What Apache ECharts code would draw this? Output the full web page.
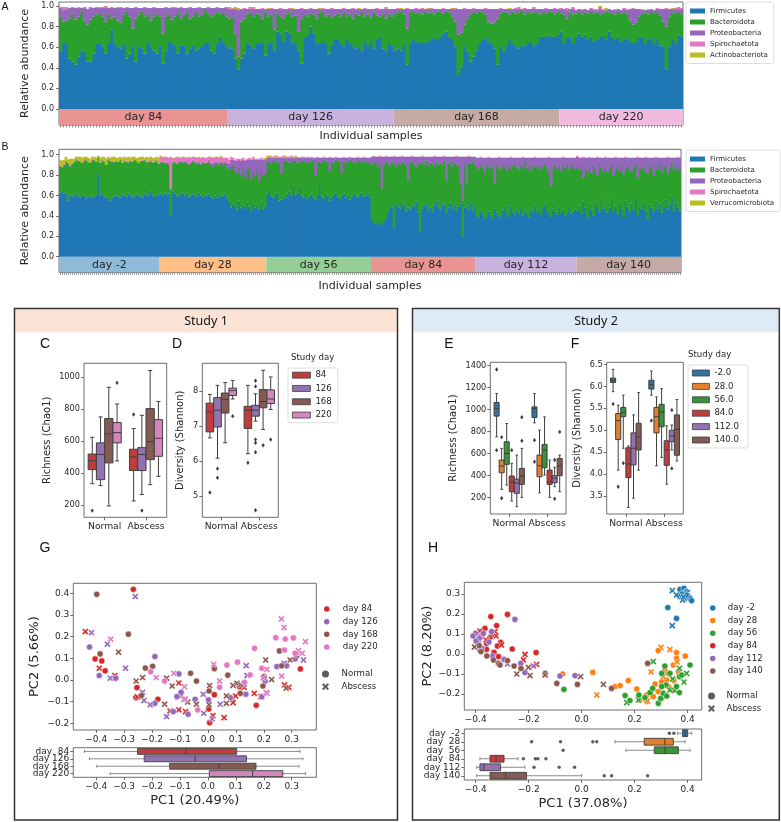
<!DOCTYPE html>
<html><head><meta charset="utf-8">
<script src="https://cdn.jsdelivr.net/npm/echarts@6/dist/echarts.min.js"></script>
<style>html,body{margin:0;padding:0;background:#fff}#c{width:781px;height:822px}</style>
</head><body><div id="c"></div>
<script>
// ================= DATA =================
const phylaA = ['Firmicutes','Bacteroidota','Proteobacteria','Spirochaetota','Actinobacteriota'];
const phylaB = ['Firmicutes','Bacteroidota','Proteobacteria','Spirochaetota','Verrucomicrobiota'];
const phylumColors = ['#1f77b4','#2ca02c','#9467bd','#e377c2','#bcbd22'];
const daysA = ['day 84','day 126','day 168','day 220'];
const daySizesA = [56,55,55,41];
const bandColorsA = ['#ea9393','#c9b3de','#c5aaa5','#f1bbe0'];
const daysB = ['day -2','day 28','day 56','day 84','day 112','day 140'];
const daySizesB = [50,53,52,52,50,52];
const bandColorsB = ['#8fbbd9','#ffbf86','#95cf95','#ea9393','#c9b3de','#c5aaa5'];

// Study 1 relative abundance (percent)
const firmA = [
56,64,64,49,46,43,51,57,56,46,46,54,64,64,61,54,64,77,64,61,59,64,49,54,61,46,61,59,54,65,61,57,54,62,44,57,65,64,62,54,62,62,54,59,62,57,59,61,64,65,57,54,64,70,65,61,
59,59,49,38,49,54,64,62,59,64,64,65,52,64,65,57,75,73,65,75,73,64,65,57,44,70,72,80,73,64,64,65,64,54,62,67,67,64,61,68,64,61,59,61,57,65,61,65,59,68,70,59,57,64,62,
57,59,57,64,43,64,67,65,64,65,64,65,67,69,67,70,73,75,70,67,61,33,41,61,56,46,51,57,64,67,69,65,64,59,43,61,56,62,67,64,61,59,62,61,64,65,61,64,70,70,70,72,70,70,72,
75,64,70,69,64,70,73,70,72,67,70,65,67,70,72,67,75,69,67,70,65,67,69,65,64,65,70,69,64,67,69,64,67,61,61,38,61,67,64,72,70];
const bactA = [
34,21,22,39,47,44,39,38,30,36,41,36,28,29,29,31,29,11,26,25,25,28,46,36,17,42,31,36,36,27,25,33,39,28,29,33,27,23,28,40,26,30,40,29,28,38,31,31,32,28,33,38,31,22,29,29,
29,31,24,13,36,34,28,32,31,29,28,23,43,26,27,20,18,17,23,17,21,26,26,18,44,22,18,13,19,24,30,30,26,38,27,24,26,26,33,22,28,27,34,30,38,25,31,24,35,23,20,33,31,29,28,
36,35,38,28,35,30,28,28,30,27,31,28,27,23,28,24,20,20,24,23,24,39,33,21,32,46,43,36,31,27,23,20,19,25,45,32,39,32,25,31,32,35,34,31,31,28,33,31,22,24,23,23,24,22,23,
18,28,18,25,28,23,22,22,22,26,25,28,27,22,21,28,19,24,25,25,28,27,23,21,18,19,20,24,30,25,26,29,27,30,24,42,29,27,29,23,22];
const protA = [
8,11,11,10,5,11,8,3,12,15,11,8,6,5,8,13,5,10,8,12,14,6,3,8,20,10,6,3,8,6,12,8,5,8,25,8,6,11,8,4,10,6,4,10,8,3,8,6,2,5,8,6,3,6,4,8,
9,7,24,45,12,9,5,3,7,4,5,9,2,7,5,20,4,7,9,5,3,7,6,22,9,5,7,4,5,9,3,2,7,5,8,6,4,7,3,7,5,9,4,6,2,7,5,8,3,6,7,5,9,4,7,
4,3,2,5,19,3,2,4,3,5,2,4,3,5,2,3,4,2,3,7,12,25,23,15,9,5,3,4,2,3,5,12,14,13,9,4,2,3,5,2,4,3,1,5,2,4,3,2,5,3,4,2,3,5,2,
4,5,8,3,5,3,2,4,3,3,2,3,2,5,3,1,3,3,4,2,3,3,4,11,15,13,7,3,2,4,2,3,3,6,12,17,7,3,4,2,5];
const spirA = [
1,3,1,0,1,0,0,0,1,0,1,0,1,0,1,2,0,1,0,0,1,0,1,0,0,1,0,0,1,0,0,1,0,0,0,1,0,1,0,0,1,0,0,1,0,0,1,0,0,1,0,0,1,0,0,1,
1,0,1,1,0,1,0,2,1,0,0,1,0,0,1,0,0,1,0,0,1,0,0,0,1,0,0,1,0,0,0,1,0,0,1,0,0,0,1,0,0,1,0,0,0,1,0,0,0,1,0,0,1,0,0,
0,1,0,0,1,0,0,1,0,1,0,0,1,0,0,0,1,0,0,0,1,0,0,1,0,0,1,0,0,0,1,0,0,0,0,1,0,0,0,0,1,2,0,1,0,0,1,0,0,0,1,0,0,1,0,
1,0,2,0,1,0,0,1,0,0,1,1,0,2,0,1,0,0,1,0,0,1,0,0,1,0,0,1,0,1,0,0,1,0,0,1,0,0,1,2,1];
const actiA = [
0,0,1,0,0,0,1,0,0,0,0,0,0,1,0,0,0,0,0,1,0,0,0,0,0,0,0,0,0,0,0,0,0,0,0,0,0,0,1,0,0,0,0,0,0,0,0,0,0,0,0,0,0,0,0,0,
1,1,1,1,0,0,0,0,1,0,0,0,0,1,0,0,0,0,0,0,0,1,0,0,0,0,0,0,0,0,1,0,0,0,0,0,0,0,0,0,0,0,0,1,0,0,0,0,0,0,0,0,1,0,0,
0,0,1,0,0,0,0,0,0,0,0,1,0,0,0,0,0,0,0,1,0,0,0,0,0,0,0,0,0,0,0,0,0,0,0,0,0,0,1,0,0,0,0,0,0,0,1,0,0,0,0,0,0,0,0,
0,0,0,0,1,0,0,0,0,0,0,0,1,1,1,1,0,0,0,0,0,0,1,0,0,0,0,0,0,0,0,0,0,0,0,0,0,1,0,0,0];

// Study 2 relative abundance (percent)
const firmB = [
63,64,62,63,55,60,61,59,62,60,58,61,60,57,59,60,58,59,61,82,60,62,59,58,57,55,58,59,60,59,58,61,60,59,62,60,58,59,61,60,59,58,62,60,61,64,60,59,61,60,
62,60,63,61,62,40,64,62,60,59,61,63,60,62,58,60,62,61,59,63,60,58,61,60,62,59,57,60,58,61,59,60,62,58,55,48,52,50,46,55,48,51,47,53,49,45,52,48,50,46,54,47,50,
62,64,60,58,61,63,55,56,60,58,62,64,60,70,61,62,69,60,58,63,57,60,62,58,56,61,72,59,57,62,60,55,58,61,63,59,57,60,62,58,61,56,59,62,60,58,61,63,59,60,62,58,
36,33,32,34,31,33,35,38,45,50,48,28,52,49,47,53,50,44,48,46,51,49,54,43,24,47,50,52,45,48,44,51,55,49,46,52,50,43,48,53,47,51,45,49,52,20,48,50,46,53,44,50,
40,38,45,42,36,39,44,41,37,47,43,40,38,45,49,42,39,50,44,41,46,43,48,40,45,42,38,47,44,50,43,46,41,48,52,45,42,39,47,44,41,48,43,46,40,44,49,42,45,47,
45,50,42,55,48,38,52,46,40,54,49,44,57,47,51,43,48,56,45,50,42,53,47,39,55,49,44,52,46,58,41,50,47,53,45,36,51,48,44,55,47,52,43,49,56,46,51,60,45,53,48,44];
const bactB = [
25,23,28,30,37,28,30,34,33,34,35,31,34,38,34,32,36,36,32,15,32,32,34,32,38,39,35,33,34,34,37,31,34,34,30,34,35,36,33,32,34,36,33,32,32,30,32,34,33,31,
30,33,28,31,28,26,28,31,31,33,33,29,33,29,32,32,32,32,32,29,30,35,30,32,32,31,31,32,33,28,34,30,30,30,30,40,38,34,36,32,32,35,31,32,39,31,31,32,36,29,30,33,32,
31,30,32,37,32,31,37,26,33,37,32,28,33,25,33,30,24,34,37,30,35,34,31,37,24,32,22,33,38,31,34,29,35,31,32,35,36,22,32,34,32,39,35,30,33,36,34,29,34,34,30,35,
54,59,61,54,60,34,55,55,47,39,46,63,36,43,43,40,41,45,27,46,42,41,34,49,67,46,40,42,44,44,47,37,38,41,46,37,44,32,43,40,41,41,45,40,20,35,42,22,46,38,49,40,
48,47,45,45,46,52,44,45,52,25,47,47,47,46,39,42,51,36,45,51,41,42,42,48,48,44,51,37,47,38,44,44,44,41,40,42,40,31,41,47,45,41,41,44,47,48,36,46,46,39,
43,35,48,23,39,46,39,36,49,32,31,48,30,37,39,40,40,35,34,36,47,31,45,42,32,41,41,31,43,34,37,38,39,37,39,46,40,39,36,34,38,40,40,39,34,35,36,33,40,36,36,44];
const protB = [
1,1,0,1,0,1,0,0,1,0,1,0,0,1,0,0,1,0,0,1,0,1,0,0,1,0,0,1,0,0,1,0,0,0,1,0,0,1,0,0,1,0,0,1,0,1,0,0,1,0,
1,0,1,0,2,1,0,1,0,1,0,1,0,2,1,0,1,0,1,2,1,0,1,0,1,2,3,1,2,3,1,2,2,4,6,7,5,10,12,8,14,9,16,10,7,19,12,15,9,20,11,15,13,
4,3,5,2,4,3,5,15,4,2,3,5,4,2,3,5,4,3,2,4,5,3,4,2,17,4,3,5,2,4,3,13,4,5,2,3,4,15,3,5,4,2,3,5,4,3,2,5,4,3,5,4,
8,6,5,10,7,31,8,5,6,9,4,7,10,6,8,5,7,9,23,6,5,8,10,6,7,5,8,4,9,6,7,10,5,8,6,9,4,23,7,5,10,6,8,9,26,43,8,26,6,7,5,8,
9,12,7,10,15,6,9,11,8,25,7,10,12,6,9,13,7,11,8,5,10,12,7,9,4,11,8,13,6,9,10,7,12,8,5,10,15,27,9,6,11,8,13,7,10,5,12,9,6,11,
10,12,7,19,10,13,6,15,8,11,17,5,10,13,7,14,9,6,18,11,8,13,5,16,10,7,12,14,8,5,19,9,11,7,13,15,6,10,17,8,12,5,14,9,7,16,10,4,12,8,13,9];
const spirB = [
1,0,1,0,0,1,0,0,0,1,0,0,1,0,0,0,0,1,0,0,0,0,1,0,0,0,1,0,0,0,0,0,1,0,0,0,1,0,0,0,0,1,0,0,0,0,1,0,0,1,
5,4,6,5,5,31,4,3,6,4,3,5,4,4,6,5,3,4,5,3,6,4,5,5,3,5,6,4,5,5,4,5,3,5,4,2,2,1,2,1,1,2,1,1,2,1,2,1,1,1,2,1,1,
1,2,1,1,2,1,1,1,2,1,1,1,2,1,1,1,0,1,1,0,1,0,1,0,0,1,0,0,1,0,0,1,0,0,1,0,0,0,1,0,0,1,0,0,0,1,0,0,1,0,0,0,
0,1,0,0,1,0,0,1,0,0,0,1,0,0,0,1,0,0,0,0,1,0,0,0,0,1,0,0,0,0,0,1,0,0,0,0,1,0,0,0,0,0,1,0,0,0,0,0,1,0,0,0,
0,0,1,0,0,0,1,0,0,0,0,1,0,0,0,0,0,1,0,0,0,0,0,1,0,0,0,0,0,1,0,0,0,0,0,0,1,0,0,0,0,0,0,1,0,0,0,0,0,0,
1,0,0,1,0,0,1,0,0,0,1,0,0,0,1,0,0,0,0,1,0,0,0,0,1,0,0,0,0,0,1,0,0,0,1,0,0,0,0,1,0,0,0,0,0,1,0,0,0,0,1,0];
const verrB = [
5,6,4,4,3,6,5,3,2,3,4,5,3,2,4,4,3,2,4,1,5,3,4,6,2,3,4,5,3,4,2,5,3,4,5,3,4,2,3,5,4,3,2,5,4,3,4,4,3,5,
1,1,0,1,0,0,1,0,1,1,0,0,1,0,1,0,0,1,0,1,0,1,0,0,0,1,0,1,0,0,1,0,0,0,0,1,0,0,0,0,1,0,0,0,0,0,1,0,0,0,0,0,1,
1,0,1,0,0,1,0,0,0,1,0,0,0,0,1,0,0,0,0,0,0,0,0,0,0,0,0,0,0,0,0,0,0,0,0,0,0,0,0,0,0,0,0,0,0,0,0,0,0,0,0,0,
0,0,0,0,0,0,0,0,0,0,0,0,0,0,0,0,0,0,0,0,0,0,0,0,0,0,0,0,0,0,0,0,0,0,0,0,0,0,0,0,0,0,0,0,0,0,0,0,0,0,0,0,
0,0,0,0,0,0,0,0,0,0,0,0,0,0,0,0,0,0,0,0,0,0,0,0,0,0,0,0,0,0,0,0,0,0,0,0,0,0,0,0,0,0,0,0,0,0,0,0,0,0,
0,0,0,0,0,0,0,0,0,0,0,0,0,0,0,0,0,0,0,0,0,0,0,0,0,0,0,0,0,0,0,0,0,0,0,0,0,0,0,0,0,0,0,0,0,0,0,0,0,0,0,0];

// Box statistics rows: [category(0 Normal,1 Abscess), hue, min, q1, median, q3, max]
const conditions = ['Normal','Abscess'];
const hueS1 = ['84','126','168','220'];
const hueS2 = ['-2.0','28.0','56.0','84.0','112.0','140.0'];
const boxColS1 = ['#c03d3e','#9372b2','#845b53','#d585bd'];
const boxColS2 = ['#3274a1','#e1812c','#3a923a','#c03d3e','#9372b2','#845b53'];
const richS1 = [
[0,0,335,423,479,520,625],[0,1,323,360,517,590,752],[0,2,196,465,646,742,937],[0,3,477,590,654,717,833],
[1,0,227,417,502,550,679],[1,1,267,417,517,560,762],[1,2,329,485,598,804,1042],[1,3,381,506,619,735,848]];
const richS1Out = [[0,0,167],[0,3,965],[1,0,767],[1,1,167]];
const shanS1 = [
[0,0,6.67,6.84,7.41,7.66,7.91],[0,1,6.09,6.98,7.46,7.82,8.17],[0,2,6.53,7.38,7.77,7.95,8.25],[0,3,7.78,7.88,8.02,8.09,8.31],
[1,0,6.22,6.94,7.46,7.57,8.17],[1,1,7.15,7.29,7.46,7.6,7.93],[1,2,6.91,7.53,7.71,8.05,8.6],[1,3,7.48,7.65,7.78,8.04,8.41]];
const shanS1Out = [[0,0,5.11],[0,1,5.79],[0,1,5.53],[0,3,7.29],[1,0,5.96],[1,1,8.3],[1,1,8.14],[1,1,6.62],[1,1,6.53],[1,1,6.26],[1,1,4.6],[1,2,6.46],[1,3,6.62]];
const richS2 = [
[0,0,753,941,1010,1065,1146],[0,1,276,427,487,542,648],[0,2,315,503,602,708,874],[0,3,170,254,340,397,512],[0,4,118,240,333,369,587],[0,5,203,321,397,466,648],
[1,0,880,929,1010,1025,1146],[1,1,245,390,490,587,814],[1,2,406,472,632,684,934],[1,3,203,321,345,451,542],[1,4,300,336,376,400,476],[1,5,254,400,490,557,587]];
const richS2Out = [[0,0,1364],[0,0,632],[0,1,750],[0,1,195],[0,3,632],[0,5,931],[0,5,717],[1,0,723],[1,0,526],[1,4,542],[1,4,190],[1,5,798]];
const shanS2 = [
[0,0,5.88,6.09,6.14,6.19,6.39],[0,1,4.09,4.79,5.22,5.38,5.57],[0,2,4.59,5.31,5.4,5.52,5.8],[0,3,3.24,3.92,4.23,4.6,4.64],[0,4,3.45,4.21,4.59,4.94,5.35],[0,5,4.09,4.55,4.85,5.16,5.86],
[1,0,5.8,5.94,6.04,6.14,6.35],[1,1,4.19,4.94,5.31,5.52,5.76],[1,2,4.38,5.08,5.42,5.59,5.95],[1,3,3.77,4.2,4.55,4.76,5.1],[1,4,4.55,4.74,4.87,5.0,5.12],[1,5,4.3,4.43,5.02,5.35,5.7]];
const shanS2Out = [[0,0,5.6],[0,1,3.71],[0,2,4.25],[1,0,5.22],[1,4,5.46],[1,4,4.13]];

// PCoA points: [PC1, PC2, type(0 Normal, 1 Abscess)]
const pcDaysS1 = ['day 84','day 126','day 168','day 220'];
const pcColS1 = ['#d62728','#9467bd','#8c564b','#e377c2'];
const pcS1_d84 = [[-0.267,0.418,0],[-0.439,0.223,1],[-0.404,0.097,0],[-0.38,0.088,0],[-0.389,0.054,1],[-0.368,0.042,0],[-0.333,0.02,1],[-0.254,-0.035,0],[-0.258,-0.082,0],[-0.253,-0.078,1],[-0.179,-0.089,0],[-0.136,-0.143,1],[-0.104,-0.138,1],[-0.104,-0.014,1],[-0.095,-0.071,1],[-0.08,-0.146,1],[0.003,-0.134,0],[0.006,-0.197,0],[0.018,-0.165,1],[0.023,-0.068,0],[0.058,-0.174,1],[0.088,-0.089,1],[0.09,-0.105,1],[0.099,-0.074,1],[0.113,-0.031,0],[0.166,-0.062,1],[0.173,-0.117,0],[0.19,-0.077,1],[0.274,-0.023,1],[0.29,-0.034,1],[0.331,0.051,0],[0.13,-0.034,1]];
const pcS1_d126 = [[-0.26,0.385,1],[-0.424,0.152,0],[-0.417,0.218,1],[-0.36,0.165,1],[-0.389,0.02,0],[-0.35,0.008,1],[-0.33,0.008,0],[-0.295,0.054,1],[-0.234,-0.057,1],[-0.229,-0.095,1],[-0.19,0.108,0],[-0.19,-0.108,0],[-0.207,-0.115,1],[-0.124,-0.146,0],[-0.148,-0.169,1],[-0.111,-0.077,0],[-0.104,0.028,0],[-0.096,-0.057,0],[-0.071,-0.158,0],[-0.086,-0.089,1],[-0.046,-0.089,0],[-0.017,-0.066,1],[-0.015,-0.154,1],[0.002,-0.092,0],[0.015,-0.18,1],[0.044,-0.112,1],[0.08,-0.082,0],[0.136,-0.066,0],[0.14,0.02,1],[0.137,0.066,1],[0.193,-0.077,0],[0.211,-0.062,1],[0.205,-0.005,0],[0.247,0.062,0],[0.273,0.077,1],[0.282,0.065,0],[0.312,0.097,0],[0.342,0.092,1]];
const pcS1_d168 = [[-0.398,0.395,0],[-0.285,0.211,0],[-0.32,0.128,1],[-0.386,0.12,0],[-0.257,-0.005,1],[-0.234,0.011,1],[-0.238,-0.072,0],[-0.224,0.055,0],[-0.198,0.063,0],[-0.155,-0.112,1],[-0.148,0.008,1],[-0.128,-0.028,1],[-0.062,0.031,0],[-0.072,-0.102,1],[-0.041,-0.005,0],[-0.041,-0.112,1],[0.004,-0.115,1],[0.006,-0.026,1],[0.004,-0.051,0],[0.023,0.052,0],[0.071,0.022,0],[0.066,-0.074,1],[0.066,-0.108,1],[0.09,-0.025,1],[0.104,-0.015,1],[0.118,-0.023,1],[0.116,-0.062,0],[0.128,-0.02,1],[0.197,-0.028,0],[0.207,0.092,1],[0.228,0.002,1],[0.256,0.134,0],[0.264,0.065,0],[0.28,-0.038,1],[0.294,0.092,1],[0.318,0.114,1],[0.201,0.015,0]];
const pcS1_d220 = [[-0.348,0.188,1],[-0.185,0.011,1],[-0.205,0.038,0],[-0.155,-0.005,0],[-0.122,0.031,1],[-0.084,-0.031,1],[-0.08,-0.089,1],[-0.037,-0.138,0],[0.021,0.072,1],[0.042,-0.005,1],[0.042,-0.034,0],[0.068,0.069,0],[0.106,0.082,0],[0.151,0.023,0],[0.131,-0.011,0],[0.167,0.146,0],[0.193,0.054,0],[0.197,0.009,1],[0.211,0.049,1],[0.209,-0.058,1],[0.243,0.195,0],[0.263,0.282,1],[0.273,0.242,1],[0.277,0.189,0],[0.274,0.138,0],[0.306,0.194,0],[0.264,0.018,1],[0.324,0.135,1],[0.312,0.123,0],[0.338,0.123,1],[0.349,0.177,1]];
const pcDaysS2 = ['day -2','day 28','day 56','day 84','day 112','day 140'];
const pcColS2 = ['#1f77b4','#ff7f0e','#2ca02c','#d62728','#9467bd','#8c564b'];
const pcS2_dm2 = [[0.371,0.323,0],[0.386,0.328,0],[0.394,0.312,0],[0.378,0.3,0],[0.402,0.29,0],[0.409,0.278,0],[0.39,0.278,0],[0.369,0.287,0],[0.342,0.317,1],[0.358,0.295,1],[0.381,0.27,1],[0.399,0.307,1],[0.325,0.232,0],[0.358,0.178,0],[0.342,0.142,1],[0.415,0.267,0],[0.395,0.295,0],[0.384,0.285,1]];
const pcS2_d28 = [[-0.072,-0.1,0],[0.042,-0.092,0],[0.057,-0.205,1],[0.299,0.033,1],[0.333,0.023,1],[0.289,0.017,0],[0.358,0.007,0],[0.391,-0.01,0],[0.126,-0.163,0],[0.145,-0.158,0],[0.176,-0.133,0],[0.208,-0.175,0],[0.214,-0.213,0],[0.245,-0.205,0],[0.277,-0.15,0],[0.302,-0.138,0],[0.331,-0.1,0],[0.346,-0.055,0],[0.358,-0.022,0],[0.314,-0.08,0],[0.321,-0.13,0],[0.348,-0.133,0],[0.22,-0.23,0],[0.245,-0.238,0],[0.302,-0.222,0],[0.289,-0.188,0],[0.337,-0.18,0],[0.308,-0.113,1],[0.248,-0.235,1],[0.27,-0.213,0],[0.327,-0.163,0],[0.321,-0.097,1],[0.365,-0.088,0],[0.262,-0.09,1],[0.36,-0.04,1]];
const pcS2_d56 = [[-0.067,-0.177,0],[0.164,-0.208,0],[0.17,-0.243,1],[0.182,-0.233,0],[0.215,-0.23,1],[0.216,-0.205,0],[0.239,-0.218,0],[0.258,-0.193,0],[0.27,-0.038,1],[0.268,-0.172,0],[0.289,-0.247,0],[0.298,-0.222,0],[0.308,-0.197,0],[0.318,-0.155,0],[0.302,-0.163,0],[0.302,-0.097,0],[0.314,-0.06,0],[0.333,-0.18,1],[0.352,-0.183,1],[0.358,-0.163,0],[0.369,-0.072,1],[0.369,-0.113,0],[0.378,-0.105,0],[0.386,-0.14,1],[0.396,-0.097,1],[0.409,-0.055,0],[0.333,-0.097,0],[0.369,-0.193,0],[0.321,-0.21,0],[0.343,-0.125,1]];
const pcS2_d84 = [[-0.343,0.187,0],[-0.28,0.198,0],[-0.365,0.128,0],[-0.321,0.142,0],[-0.384,0.115,1],[-0.327,0.112,1],[-0.323,0.09,1],[-0.346,0.083,0],[-0.306,0.058,0],[-0.318,0.04,0],[-0.302,0.045,1],[-0.262,0.025,0],[-0.359,0.023,0],[-0.331,0.008,0],[-0.214,-0.002,1],[-0.172,0.007,0],[-0.17,-0.052,1],[-0.22,-0.03,1],[-0.314,-0.013,0],[-0.359,0.053,0],[-0.381,0.087,0],[-0.361,0.07,1],[-0.34,0.1,1]];
const pcS2_d112 = [[-0.252,0.173,0],[-0.401,0.103,0],[-0.386,0.078,0],[-0.371,0.103,0],[-0.34,0.112,0],[-0.39,0.053,0],[-0.377,0.028,0],[-0.336,-0.01,0],[-0.28,-0.05,1],[-0.23,-0.047,0],[-0.214,-0.093,0],[-0.182,-0.06,1],[-0.082,-0.11,0],[-0.025,-0.108,0],[-0.293,-0.027,0],[-0.399,0.065,0],[-0.384,0.017,0],[-0.41,0.09,0],[-0.35,0.06,0]];
const pcS2_d140 = [[-0.387,0.042,0],[-0.38,0.012,0],[-0.358,-0.01,0],[-0.333,-0.03,0],[-0.314,-0.047,0],[-0.308,-0.055,0],[-0.255,-0.06,0],[-0.245,-0.1,1],[-0.195,-0.108,1],[-0.229,-0.072,0],[-0.201,-0.067,1],[-0.138,-0.097,0],[-0.094,-0.147,0],[-0.016,-0.152,0],[-0.004,-0.113,1],[0.082,-0.152,1],[0.113,-0.172,0],[0.249,-0.047,0],[-0.138,-0.105,1],[-0.28,-0.033,0],[-0.405,0.035,1]];

// PC1 boxplots per day: [row, min, q1, median, q3, max]
const pc1BoxLabelsS1 = ['day  84','day 126','day 168','day 220'];
const pc1BoxS1 = [[0,-0.442,-0.252,-0.079,0.103,0.33],[1,-0.424,-0.228,-0.046,0.138,0.34],[2,-0.398,-0.137,0.04,0.172,0.326],[3,-0.35,0.005,0.16,0.268,0.35]];
const pc1BoxColS1 = ['#c03d3e','#9372b2','#845b53','#d585bd'];
const pc1BoxLabelsS2 = ['day  -2','day  28','day  56','day  84','day 112','day 140'];
const pc1BoxS2 = [[0,0.362,0.381,0.39,0.4,0.415],[1,0.126,0.236,0.314,0.346,0.39],[2,0.167,0.274,0.314,0.365,0.409],[3,-0.384,-0.346,-0.323,-0.293,-0.24],[4,-0.396,-0.384,-0.369,-0.306,-0.214],[5,-0.396,-0.346,-0.287,-0.208,0.0]];
const pc1BoxColS2 = ['#3274a1','#e1812c','#3a923a','#c03d3e','#9372b2','#845b53'];
const pc1OutS2 = [[0.331,0],[0.348,0],[-0.189,1],[-0.08,1],[0.042,1],[0.057,1],[-0.07,2],[-0.22,3],[-0.175,3],[-0.165,3],[-0.135,3],[-0.18,4],[-0.085,4],[-0.027,4],[0.085,5],[0.113,5],[0.249,5]];

// tick values
const ticksBar = [0,0.2,0.4,0.6,0.8,1.0];
const ticksC = [200,400,600,800,1000];
const ticksD = [5,6,7,8];
const ticksE = [200,400,600,800,1000,1200,1400];
const ticksF = [3.5,4.0,4.5,5.0,5.5,6.0,6.5];
const ticksGx = [-0.4,-0.3,-0.2,-0.1,0,0.1,0.2,0.3];
const ticksGy = [-0.2,-0.1,0,0.1,0.2,0.3,0.4];
const ticksHx = [-0.4,-0.2,0,0.2,0.4];
const ticksHy = [-0.2,-0.1,0,0.1,0.2,0.3];

// ================= CHART =================
const FONT = 'DejaVu Sans';
const TXT = '#262626';
const FRAME = '#4a4a4a';
const LINE = '#3f3f3f';
const XPATH = 'path://M0,2.1L2.1,0L5,2.9L7.9,0L10,2.1L7.1,5L10,7.9L7.9,10L5,7.1L2.1,10L0,7.9L2.9,5Z';

function merge(a, b) {
  for (const k in b) {
    if (b[k] && typeof b[k] === 'object' && !Array.isArray(b[k]) && a[k] && typeof a[k] === 'object' && !Array.isArray(a[k])) merge(a[k], b[k]);
    else a[k] = b[k];
  }
  return a;
}
const fmt = d => v => (v < -1e-9 ? '\u2212' : '') + Math.abs(v).toFixed(d);

const grids = [], xAxes = [], yAxes = [], series = [];
function addGrid(g) {
  grids.push(Object.assign({show: true, borderColor: FRAME, borderWidth: 0.8, backgroundColor: 'transparent'}, g));
  return grids.length - 1;
}
function valAxis(gi, min, max, ticks, f, extra) {
  return merge({
    type: 'value', gridIndex: gi, min, max,
    axisLine: {show: false, onZero: false}, splitLine: {show: false},
    axisTick: {show: true, length: 3, lineStyle: {color: FRAME, width: 0.8}, customValues: ticks},
    axisLabel: {show: true, customValues: ticks, formatter: f, fontFamily: FONT, fontSize: 8.2, color: TXT, margin: 4},
    nameLocation: 'middle', nameTextStyle: {fontFamily: FONT, fontSize: 10, color: TXT}
  }, extra || {});
}
function catAxis(gi, data, extra) {
  return merge({
    type: 'category', gridIndex: gi, data, boundaryGap: true,
    axisLine: {show: false, onZero: false}, splitLine: {show: false},
    axisTick: {show: true, alignWithLabel: true, interval: 0, length: 3, lineStyle: {color: FRAME, width: 0.8}},
    axisLabel: {show: true, interval: 0, fontFamily: FONT, fontSize: 9.2, color: TXT, margin: 4},
    nameLocation: 'middle', nameTextStyle: {fontFamily: FONT, fontSize: 10, color: TXT}
  }, extra || {});
}

// ---- stacked bar panels ----
function barPanel(grid, sizes, bandNames, bandCols, vals, names, ymin, ymax, xGap) {
  const gi = addGrid(grid);
  const cats = vals[0].map((v, i) => String(i + 1));
  // slightly wider than the band so neighbouring bars overlap (no anti-alias seams)
  const barW = grid.width / cats.length + 0.8;
  xAxes.push(catAxis(gi, cats, {
    axisLabel: {show: false},
    axisTick: {length: 2.5, lineStyle: {width: 0.6}},
    name: 'Individual samples', nameGap: xGap, nameTextStyle: {fontSize: 11}
  }));
  yAxes.push(valAxis(gi, ymin, ymax, ticksBar, fmt(1), {
    axisLabel: {fontSize: 8, margin: 5},
    name: 'Relative abundance', nameGap: 21, nameTextStyle: {fontSize: 11}
  }));
  vals.forEach((arr, s) => {
    series.push({
      type: 'bar', name: names[s], xAxisIndex: gi, yAxisIndex: gi, stack: 'st' + gi,
      data: arr.map(v => v / 100), barWidth: barW,
      itemStyle: {color: phylumColors[s], borderWidth: 0},
      emphasis: {disabled: true}, silent: true
    });
  });
  const bands = [];
  let start = 0;
  sizes.forEach((n) => { bands.push([start, start + n - 1, 0, ymin]); start += n; });
  series.push({
    type: 'custom', xAxisIndex: gi, yAxisIndex: gi, silent: true,
    encode: {x: [0, 1], y: [2, 3]}, data: bands,
    renderItem: (p, api) => {
      const bw = api.size([1, 0])[0];
      const p0 = api.coord([api.value(0), api.value(2)]);
      const p1 = api.coord([api.value(1), api.value(3)]);
      const x0 = p0[0] - bw / 2, x1 = p1[0] + bw / 2;
      return {type: 'group', children: [
        {type: 'rect', shape: {x: x0, y: p0[1], width: x1 - x0, height: p1[1] - p0[1]}, style: {fill: bandCols[p.dataIndex]}},
        {type: 'text', style: {text: bandNames[p.dataIndex], x: (x0 + x1) / 2, y: (p0[1] + p1[1]) / 2 + 0.5, align: 'center', verticalAlign: 'middle', fontFamily: FONT, fontSize: 11, fill: TXT}}
      ]};
    }
  });
}
barPanel({left: 59, top: 2, width: 624, height: 123}, daySizesA, daysA, bandColorsA,
  [firmA, bactA, protA, spirA, actiA], phylaA, -0.1553, 1.0388, 6);
barPanel({left: 59, top: 149.3, width: 622, height: 123}, daySizesB, daysB, bandColorsB,
  [firmB, bactB, protB, spirB, verrB], phylaB, -0.153, 1.053, 8);

// ---- grouped boxplots ----
function vBoxPanel(grid, stats, outs, nHue, cols, names, ymin, ymax, ticks, f, yName, nameGap) {
  const gi = addGrid(grid);
  xAxes.push(catAxis(gi, conditions, {axisLabel: {margin: 5}}));
  yAxes.push(valAxis(gi, ymin, ymax, ticks, f, {name: yName, nameGap: nameGap}));
  for (let h = 0; h < nHue; h++) {
    series.push({
      type: 'custom', name: names[h], xAxisIndex: gi, yAxisIndex: gi, silent: true,
      itemStyle: {color: cols[h]},
      encode: {x: 0, y: [1, 2, 3, 4, 5]},
      data: stats.filter(r => r[1] === h).map(r => [r[0], r[2], r[3], r[4], r[5], r[6]]),
      renderItem: (p, api) => {
        const c = api.value(0);
        const bw = api.size([1, 0])[0];
        const w = bw * 0.8 / nHue;
        const xc = api.coord([c, api.value(3)])[0] + (h - (nHue - 1) / 2) * w;
        const Y = k => api.coord([c, api.value(k)])[1];
        const lo = Y(1), q1 = Y(2), md = Y(3), q3 = Y(4), hi = Y(5);
        const ls = {stroke: LINE, lineWidth: 1};
        return {type: 'group', children: [
          {type: 'line', shape: {x1: xc, y1: q1, x2: xc, y2: lo}, style: ls},
          {type: 'line', shape: {x1: xc, y1: q3, x2: xc, y2: hi}, style: ls},
          {type: 'line', shape: {x1: xc - w / 4, y1: lo, x2: xc + w / 4, y2: lo}, style: ls},
          {type: 'line', shape: {x1: xc - w / 4, y1: hi, x2: xc + w / 4, y2: hi}, style: ls},
          {type: 'rect', shape: {x: xc - w / 2, y: q3, width: w, height: q1 - q3}, style: {fill: cols[h], stroke: LINE, lineWidth: 1}},
          {type: 'line', shape: {x1: xc - w / 2, y1: md, x2: xc + w / 2, y2: md}, style: ls}
        ]};
      }
    });
  }
  series.push({
    type: 'custom', xAxisIndex: gi, yAxisIndex: gi, silent: true,
    encode: {x: 0, y: 2}, data: outs,
    renderItem: (p, api) => {
      const c = api.value(0), h = api.value(1);
      const bw = api.size([1, 0])[0];
      const w = bw * 0.8 / nHue;
      const pt = api.coord([c, api.value(2)]);
      const x = pt[0] + (h - (nHue - 1) / 2) * w, y = pt[1];
      return {type: 'polygon', shape: {points: [[x, y - 2.2], [x + 1.6, y], [x, y + 2.2], [x - 1.6, y]]}, style: {fill: LINE}};
    }
  });
}
vBoxPanel({left: 84, top: 363.3, width: 82.7, height: 154}, richS1, richS1Out, 4, boxColS1, hueS1, 125, 1087, ticksC, v => String(v), 'Richness (Chao1)', 32);
vBoxPanel({left: 202.3, top: 363.3, width: 76, height: 154}, shanS1, shanS1Out, 4, boxColS1, hueS1, 4.4, 8.8, ticksD, v => String(v), 'Diversity (Shannon)', 17);
vBoxPanel({left: 490.3, top: 362.3, width: 75.7, height: 151.7}, richS2, richS2Out, 6, boxColS2, hueS2, 52, 1430, ticksE, v => String(v), 'Richness (Chao1)', 32);
vBoxPanel({left: 606.7, top: 362.3, width: 76.6, height: 151.7}, shanS2, shanS2Out, 6, boxColS2, hueS2, 3.09, 6.55, ticksF, fmt(1), 'Diversity (Shannon)', 24);

// ---- PCoA scatter + PC1 boxplots ----
function scatterPanel(grid, xr, yr, xt, yt, groups, names, cols, yName, yGap) {
  const gi = addGrid(grid);
  xAxes.push(valAxis(gi, xr[0], xr[1], xt, fmt(1), {axisLabel: {fontSize: 9, margin: 5}}));
  yAxes.push(valAxis(gi, yr[0], yr[1], yt, fmt(1), {axisLabel: {fontSize: 9, margin: 4}, name: yName, nameGap: yGap, nameTextStyle: {fontSize: 13}}));
  groups.forEach((pts, k) => {
    series.push({
      type: 'scatter', name: names[k], xAxisIndex: gi, yAxisIndex: gi, data: pts,
      symbol: v => (v[2] ? XPATH : 'circle'), symbolSize: v => (v[2] ? 6.6 : 6.2), symbolKeepAspect: true,
      itemStyle: {color: cols[k], borderColor: '#ffffff', borderWidth: 0.5, opacity: 1},
      emphasis: {disabled: true}, silent: true
    });
  });
  return gi;
}
function hBoxPanel(grid, xr, xt, labels, stats, cols, outs, xName, xGap) {
  const gi = addGrid(grid);
  xAxes.push(valAxis(gi, xr[0], xr[1], xt, fmt(1), {axisLabel: {fontSize: 9, margin: 5}, name: xName, nameGap: xGap, nameTextStyle: {fontSize: 13}}));
  yAxes.push(catAxis(gi, labels, {inverse: true, axisLabel: {fontSize: 9, margin: 4, lineHeight: 9}}));
  series.push({
    type: 'custom', xAxisIndex: gi, yAxisIndex: gi, silent: true,
    encode: {y: 0, x: [1, 2, 3, 4, 5]}, data: stats,
    renderItem: (p, api) => {
      const c = api.value(0);
      const h = api.size([0, 1])[1] * 0.8;
      const yc = api.coord([api.value(3), c])[1];
      const X = k => api.coord([api.value(k), c])[0];
      const lo = X(1), q1 = X(2), md = X(3), q3 = X(4), hi = X(5);
      const ls = {stroke: '#8a8a8a', lineWidth: 1};
      const bl = {stroke: LINE, lineWidth: 1};
      return {type: 'group', children: [
        {type: 'line', shape: {x1: lo, y1: yc, x2: q1, y2: yc}, style: ls},
        {type: 'line', shape: {x1: q3, y1: yc, x2: hi, y2: yc}, style: ls},
        {type: 'line', shape: {x1: lo, y1: yc - h / 4, x2: lo, y2: yc + h / 4}, style: ls},
        {type: 'line', shape: {x1: hi, y1: yc - h / 4, x2: hi, y2: yc + h / 4}, style: ls},
        {type: 'rect', shape: {x: q1, y: yc - h / 2, width: q3 - q1, height: h}, style: {fill: cols[c], stroke: LINE, lineWidth: 0.9}},
        {type: 'line', shape: {x1: md, y1: yc - h / 2, x2: md, y2: yc + h / 2}, style: bl}
      ]};
    }
  });
  if (outs) {
    series.push({type: 'scatter', xAxisIndex: gi, yAxisIndex: gi, data: outs, symbol: 'circle', symbolSize: 3.4,
      itemStyle: {color: '#333333'}, silent: true, emphasis: {disabled: true}});
  }
}
const gG = scatterPanel({left: 73.3, top: 583.3, width: 243, height: 146.7}, [-0.482, 0.388], [-0.231, 0.446], ticksGx, ticksGy,
  [pcS1_d84, pcS1_d126, pcS1_d168, pcS1_d220], pcDaysS1, pcColS1, 'PC2 (5.66%)', 32);
hBoxPanel({left: 73.3, top: 747.7, width: 243, height: 29.6}, [-0.482, 0.388], ticksGx, pc1BoxLabelsS1, pc1BoxS1, pc1BoxColS1, null, 'PC1 (20.49%)', 16.5);
scatterPanel({left: 464.3, top: 582.3, width: 237.4, height: 127.7}, [-0.443, 0.453], [-0.28, 0.3585], ticksHx, ticksHy,
  [pcS2_dm2, pcS2_d28, pcS2_d56, pcS2_d84, pcS2_d112, pcS2_d140], pcDaysS2, pcColS2, 'PC2 (8.20%)', 28.5);
hBoxPanel({left: 464.3, top: 729, width: 237.4, height: 51}, [-0.443, 0.453], ticksHx, pc1BoxLabelsS2, pc1BoxS2, pc1BoxColS2, pc1OutS2, 'PC1 (37.08%)', 17.5);

// legend-only series for sample type markers
series.push({type: 'scatter', name: 'Normal', xAxisIndex: gG, yAxisIndex: gG, data: [], symbol: 'circle', itemStyle: {color: '#333333'}});
series.push({type: 'scatter', name: 'Abscess', xAxisIndex: gG, yAxisIndex: gG, data: [], symbol: XPATH, itemStyle: {color: '#333333'}});

// ---- legends ----
const legText = (size, lh) => ({fontFamily: FONT, fontSize: size, color: TXT, lineHeight: lh});
const legends = [
  {data: phylaA, left: 686, top: 2, orient: 'vertical', icon: 'rect', itemWidth: 15, itemHeight: 5, itemGap: 0,
   padding: [3.5, 6, 3, 4], borderColor: '#d6d6d6', borderWidth: 0.8, borderRadius: 2, textStyle: legText(7, 11), selectedMode: false},
  {data: phylaB, left: 686, top: 150, orient: 'vertical', icon: 'rect', itemWidth: 15, itemHeight: 5, itemGap: 0,
   padding: [3.5, 6, 3, 4], borderColor: '#d6d6d6', borderWidth: 0.8, borderRadius: 2, textStyle: legText(7, 11), selectedMode: false},
  {data: hueS1, left: 288, top: 368, orient: 'vertical', icon: 'rect', itemWidth: 18, itemHeight: 6, itemGap: 0,
   padding: [0.5, 6, 1, 4], borderColor: '#d6d6d6', borderWidth: 0.8, borderRadius: 2, textStyle: legText(8.6, 13.3),
   itemStyle: {borderColor: LINE, borderWidth: 0.8}, selectedMode: false},
  {data: hueS2, left: 688, top: 365, orient: 'vertical', icon: 'rect', itemWidth: 17, itemHeight: 6, itemGap: 0,
   padding: [1.3, 9, 1.3, 4], borderColor: '#d6d6d6', borderWidth: 0.8, borderRadius: 2, textStyle: legText(8.6, 13.4),
   itemStyle: {borderColor: LINE, borderWidth: 0.8}, selectedMode: false},
  {data: pcDaysS1.map(n => ({name: n, icon: 'circle'})), left: 322, top: 602.6, orient: 'vertical', itemWidth: 22, itemHeight: 7.5, itemGap: 0,
   padding: 0, textStyle: legText(8.6, 12.7), selectedMode: false},
  {data: [{name: 'Normal', icon: 'circle'}, {name: 'Abscess', icon: XPATH}], left: 322, top: 667.6, orient: 'vertical', itemWidth: 22, itemHeight: 7, itemGap: 0,
   padding: 0, textStyle: legText(8.6, 12.7), selectedMode: false},
  {data: pcDaysS2.map(n => ({name: n, icon: 'circle'})), left: 708, top: 601.7, orient: 'vertical', itemWidth: 20, itemHeight: 7.5, itemGap: 0,
   padding: 0, textStyle: legText(8.6, 12.6), selectedMode: false},
  {data: [{name: 'Normal', icon: 'circle'}, {name: 'Abscess', icon: XPATH}], left: 708, top: 689.7, orient: 'vertical', itemWidth: 20, itemHeight: 7, itemGap: 0,
   padding: 0, textStyle: legText(8.6, 12.6), selectedMode: false}
];

// ---- figure decorations ----
const letter = (t, x, y, s) => ({type: 'text', x: x, y: y, style: {text: t, fontFamily: 'Liberation Sans', fontSize: s, fill: '#111', align: 'center', verticalAlign: 'middle'}, silent: true});
const graphic = [
  {type: 'rect', shape: {x: 15.3, y: 309.3, width: 381.5, height: 23}, style: {fill: '#fbe3d6'}, silent: true, z: 0},
  {type: 'rect', shape: {x: 413.3, y: 309.3, width: 365.2, height: 23}, style: {fill: '#deeaf6'}, silent: true, z: 0},
  {type: 'rect', shape: {x: 14.5, y: 308.5, width: 383, height: 511.5}, style: {fill: null, stroke: '#333', lineWidth: 1.5}, silent: true, z: 5},
  {type: 'rect', shape: {x: 412.5, y: 308.5, width: 366.8, height: 511.5}, style: {fill: null, stroke: '#333', lineWidth: 1.5}, silent: true, z: 5},
  {type: 'text', x: 206, y: 321, style: {text: 'Study 1', fontFamily: 'Noto Sans', fontSize: 12.5, fill: '#111', align: 'center', verticalAlign: 'middle'}, silent: true, z: 6},
  {type: 'text', x: 596, y: 321, style: {text: 'Study 2', fontFamily: 'Noto Sans', fontSize: 12.5, fill: '#111', align: 'center', verticalAlign: 'middle'}, silent: true, z: 6},
  {type: 'text', x: 291, y: 358, style: {text: 'Study day', fontFamily: FONT, fontSize: 8.6, fill: TXT, align: 'left', verticalAlign: 'middle'}, silent: true},
  {type: 'text', x: 688, y: 355, style: {text: 'Study day', fontFamily: FONT, fontSize: 8.6, fill: TXT, align: 'left', verticalAlign: 'middle'}, silent: true},
  letter('A', 5, 7, 10.5), letter('B', 5, 147.5, 10.5),
  letter('C', 45, 344, 14), letter('D', 177, 344, 14), letter('E', 449, 344, 14), letter('F', 575, 344, 14),
  letter('G', 45, 548, 14), letter('H', 433, 548, 14)
];

const chart = echarts.init(document.getElementById('c'), null, {renderer: 'canvas', width: 781, height: 822});
chart.setOption({
  animation: false,
  backgroundColor: '#ffffff',
  textStyle: {fontFamily: FONT},
  grid: grids, xAxis: xAxes, yAxis: yAxes, series: series,
  legend: legends, graphic: graphic
});
</script>
</body></html>
